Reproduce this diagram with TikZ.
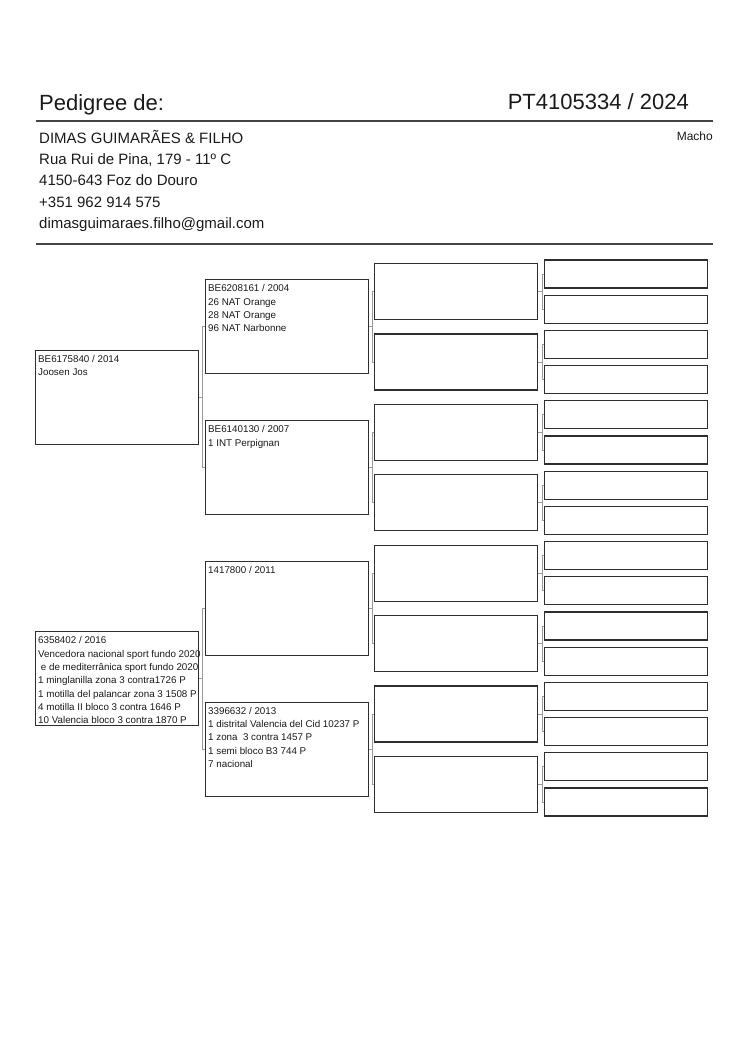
\documentclass[tikz,border=0pt]{standalone}
\usepackage{fontspec}
\setmainfont{Liberation Sans}
\usetikzlibrary{positioning, calc}
\definecolor{boxedge}{HTML}{2E2E2E}
\definecolor{linkcol}{HTML}{9A9A9A}
\definecolor{rulecol}{HTML}{444444}
\definecolor{inkcol}{HTML}{1A1A1A}
\tikzset{
    every node/.style={text=inkcol, inner sep=0pt},
    bird/.style={
        rectangle, draw=boxedge, line width=1.3pt, fill=white,
        anchor=west, minimum width=163pt,
    },
    gen1/.style={bird, minimum height=94pt},
    gen2/.style={bird, minimum height=94pt},
    gen3/.style={bird, minimum height=56pt},
    gen4/.style={bird, minimum height=28pt},
    info/.style={
        anchor=north west, align=left,
        font=\fontsize{9.8}{13.3}\selectfont,
    },
    headline/.style={font=\fontsize{22}{26}\selectfont},
    addr/.style={anchor=base west, font=\fontsize{15}{18}\selectfont},
    sexlbl/.style={anchor=base east, font=\fontsize{12}{14}\selectfont},
    hrule/.style={draw=rulecol, line width=1.2pt},
    link/.style={draw=linkcol, line width=0.8pt},
}

\begin{document}
\begin{tikzpicture}[x=1pt, y=-1pt]
\useasboundingbox (0,0) rectangle (750,1060);

% ── Header ─────────────────────────────────────────────────────────
\node[headline, anchor=base west] (pedlbl) at (39,110) {Pedigree de:};
\node[headline, anchor=base east] (ringno) at (689,109.5) {PT4105334 / 2024};
\draw[hrule] (36,121) -- (713,121);
\node[sexlbl] (sex) at (713,140) {Macho};

\node[addr] (owner) at (39,143.3) {DIMAS GUIMARÃES \& FILHO};
\node[addr] (street) at (39,164.5) {Rua Rui de Pina, 179 - 11º C};
\node[addr] (city) at (39,185.8) {4150-643 Foz do Douro};
\node[addr] (phone) at (39,207) {+351 962 914 575};
\node[addr] (mail) at (39,228.3) {dimasguimaraes.filho@gmail.com};
\draw[hrule] (36,244) -- (713,244);

% ── Parents ────────────────────────────────────────────────────────
\node[gen1] (g1-1) at (35,397.2) {};
\node[info] (g1-1txt) at ($(g1-1.north west)+(3,5.5)$)
    {BE6175840 / 2014\\Joosen Jos};

\node[gen1] (g1-2) at (35,678.8) {};
\node[info] (g1-2txt) at ($(g1-2.north west)+(3,5.5)$)
    {6358402 / 2016\\
     Vencedora nacional sport fundo 2020\\
     ~e de mediterrânica sport fundo 2020\\
     1 minglanilla zona 3 contra1726 P\\
     1 motilla del palancar zona 3 1508 P\\
     4 motilla II bloco 3 contra 1646 P\\
     10 Valencia bloco 3 contra 1870 P};

% ── Grandparents ───────────────────────────────────────────────────
\node[gen2] (g2-1) at (205,326.8) {};
\node[info] (g2-1txt) at ($(g2-1.north west)+(3,5.5)$)
    {BE6208161 / 2004\\26 NAT Orange\\28 NAT Orange\\96 NAT Narbonne};

\node[gen2] (g2-2) at (205,467.6) {};
\node[info] (g2-2txt) at ($(g2-2.north west)+(3,5.5)$)
    {BE6140130 / 2007\\1 INT Perpignan};

\node[gen2] (g2-3) at (205,608.4) {};
\node[info] (g2-3txt) at ($(g2-3.north west)+(3,5.5)$)
    {1417800 / 2011};

\node[gen2] (g2-4) at (205,749.2) {};
\node[info] (g2-4txt) at ($(g2-4.north west)+(3,5.5)$)
    {3396632 / 2013\\
     1 distrital Valencia del Cid 10237 P\\
     1 zona\ \ 3 contra 1457 P\\
     1 semi bloco B3 744 P\\
     7 nacional};

% ── Great-grandparents (empty) ─────────────────────────────────────
\foreach \i in {1,...,8}
    \node[gen3] (g3-\i) at (374,{291.6+70.4*(\i-1)}) {};
\foreach \i in {1,...,16}
    \node[gen4] (g4-\i) at (544,{274+35.2*(\i-1)}) {};

% ── Brackets ───────────────────────────────────────────────────────
\draw[link] (g1-1.east) -- ++(3.5,0) coordinate (j1);
\draw[link] (g2-1.west) -| (j1) |- (g2-2.west);
\draw[link] (g1-2.east) -- ++(3.5,0) coordinate (j2);
\draw[link] (g2-3.west) -| (j2) |- (g2-4.west);

\foreach \k [evaluate=\k as \a using int(2*\k-1),
             evaluate=\k as \b using int(2*\k)] in {1,...,4} {
    \draw[link] (g2-\k.east) -- ++(3.5,0) coordinate (jk);
    \draw[link] (g3-\a.west) -| (jk) |- (g3-\b.west);
}
\foreach \k [evaluate=\k as \a using int(2*\k-1),
             evaluate=\k as \b using int(2*\k)] in {1,...,8} {
    \draw[link] (g3-\k.east) -- ++(4,0) coordinate (jk);
    \draw[link] (g4-\a.west) -| (jk) |- (g4-\b.west);
}

\end{tikzpicture}
\end{document}
